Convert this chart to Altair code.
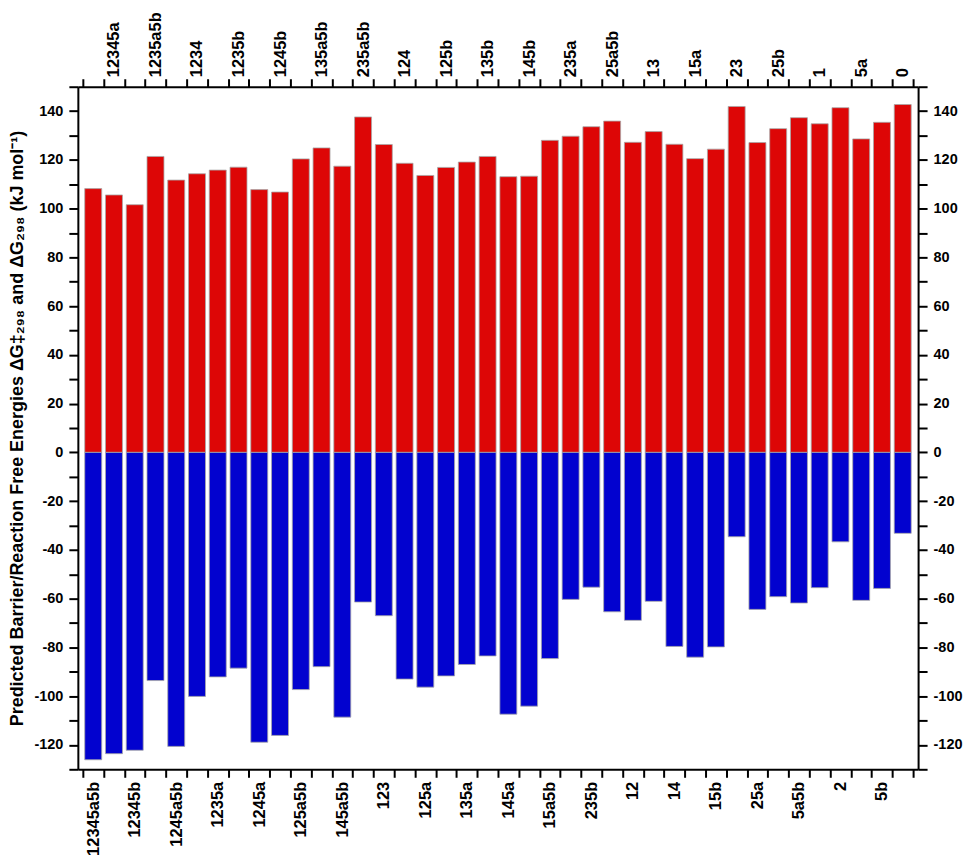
import json
import altair as alt
import pandas as pd

labels = ["12345a5b", "12345a", "12345b", "1235a5b", "1245a5b", "1234", "1235a", "1235b", "1245a", "1245b",
          "125a5b", "135a5b", "145a5b", "235a5b", "123", "124", "125a", "125b", "135a", "135b",
          "145a", "145b", "15a5b", "235a", "235b", "25a5b", "12", "13", "14", "15a",
          "15b", "23", "25a", "25b", "5a5b", "1", "2", "5a", "5b", "0"]
barrier = [108.2, 105.6, 101.6, 121.4, 111.7, 114.3, 115.8, 117.0, 107.8, 106.8,
           120.4, 124.9, 117.4, 137.6, 126.3, 118.6, 113.6, 116.9, 119.1, 121.4,
           113.1, 113.3, 128.0, 129.7, 133.6, 135.9, 127.2, 131.6, 126.4, 120.5,
           124.4, 141.9, 127.1, 132.8, 137.3, 134.8, 141.4, 128.6, 135.4, 142.7]
reaction = [-126.1, -123.6, -122.2, -93.6, -120.6, -100.1, -92.1, -88.5, -118.9, -116.1,
            -97.3, -87.9, -108.6, -61.4, -67.0, -93.0, -96.3, -91.7, -87.0, -83.5,
            -107.4, -104.1, -84.6, -60.3, -55.3, -65.4, -68.9, -61.1, -79.6, -84.0,
            -79.8, -34.6, -64.4, -59.2, -61.8, -55.5, -36.7, -60.7, -55.8, -33.2]
y_ticks = list(range(-130, 151, 10))

n = len(labels)
df = pd.DataFrame({"idx": list(range(n)), "label": labels,
                   "barrier": barrier, "reaction": reaction})

FONT = "Liberation Sans"
arr = json.dumps(labels)
x_tick_vals = [i / 2 for i in range(2 * n + 1)]
bottom_expr = f"(datum.value % 1 == 0.5 && floor(datum.value) % 2 == 0) ? {arr}[floor(datum.value)] : ''"
top_expr = f"(datum.value % 1 == 0.5 && floor(datum.value) % 2 == 1) ? {arr}[floor(datum.value)] : ''"
tick_op = {"condition": {"test": "datum.value % 1 == 0", "value": 1}, "value": 0}

common_x = dict(values=x_tick_vals, grid=False, domainColor="black", domainWidth=2,
                tickColor="black", tickWidth=2, tickSize=8, tickOpacity=tick_op,
                labelFont=FONT, labelFontWeight="bold", labelFontSize=16.5,
                labelColor="black", labelAngle=-90, labelBaseline="middle",
                labelOverlap=False, labelFlush=False, title=None)

x_scale = alt.Scale(domain=[0, n], nice=False, zero=False)
y_scale = alt.Scale(domain=[-130, 150], nice=False, zero=False)

common_y = dict(values=y_ticks, grid=False, domainColor="black", domainWidth=2,
                tickColor="black", tickWidth=2, tickSize=9,
                labelExpr="datum.value % 20 == 0 ? '' + datum.value : ''",
                labelFont=FONT, labelFontWeight="bold", labelFontSize=14.5,
                labelColor="black", labelPadding=6, labelOverlap=False)

y_title = "Predicted Barrier/Reaction Free Energies \u0394G\u2021\u2082\u2089\u2088 and \u0394G\u2082\u2089\u2088 (kJ mol\u207b\u00b9)"

base = alt.Chart(df).transform_calculate(center="datum.idx + 0.5")

red = base.mark_bar(width=17, color="#dd0606", stroke="#a8a8a8", strokeWidth=0.8).encode(
    x=alt.X("center:Q", scale=x_scale,
            axis=alt.Axis(orient="bottom", labelExpr=bottom_expr, labelAlign="right",
                          labelPadding=4, **common_x)),
    y=alt.Y("barrier:Q", scale=y_scale,
            axis=alt.Axis(orient="left", title=y_title, titleFont=FONT,
                          titleFontWeight="bold", titleFontSize=18, titleColor="black",
                          titlePadding=7, **common_y)),
)

blue = base.mark_bar(width=17, color="#0202cf", stroke="#a8a8a8", strokeWidth=0.8).encode(
    x=alt.X("center:Q", scale=x_scale,
            axis=alt.Axis(orient="top", labelExpr=top_expr, labelAlign="left",
                          labelPadding=2, **common_x)),
    y=alt.Y("reaction:Q", scale=y_scale,
            axis=alt.Axis(orient="right", title=None, **common_y)),
)

chart = alt.layer(red, blue).resolve_axis(x="independent", y="independent").properties(
    width=842, height=684,
    padding={"left": 0, "top": 2, "right": 0, "bottom": 0},
).configure_view(stroke=None)

chart.save("out.html", embed_options={"renderer": "svg", "actions": False})
